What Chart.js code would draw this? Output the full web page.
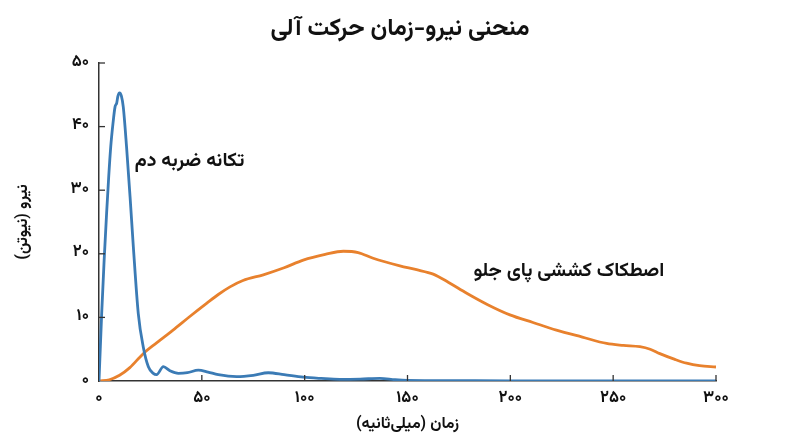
<!DOCTYPE html>
<html>
<head>
<meta charset="utf-8">
<script src="https://cdn.jsdelivr.net/npm/chart.js@4.4.1/dist/chart.umd.min.js"></script>
<style>
html,body{margin:0;padding:0;background:#fff;}
#wrap{width:800px;height:447px;position:relative;}
</style>
</head>
<body>
<div id="wrap"><canvas id="c" dir="rtl" width="800" height="447"></canvas></div>
<script>
// ---- data ----
const chartTitle = 'منحنی نیرو-زمان حرکت آلی';
const xTitle = 'زمان (میلی\u200cثانیه)';
const yTitle = 'نیرو (نیوتن)';
const tailLabel = 'تکانه ضربه دم';
const legLabel = 'اصطکاک کششی پای جلو';

const tailTimes  = [0,1.3,2.5,3.7,4.7,5.7,6.8,7.8,8.6,9.2,10,10.9,11.8,13.4,15.1,16.7,19.1,21.5,24,26.4,28,31.3,34.5,38.6,43,48.3,53,58,66.9,75,82.3,90,99.3,108,117,127,136.6,144,150,175,200,250,300];
const tailForce  = [0,10.6,19,26.4,32,36.8,40.5,43.1,43.7,44.8,45.3,44.8,43.1,36.8,29,21.1,10.6,5.4,2.25,1.2,1.0,2.25,1.6,1.2,1.3,1.7,1.4,1.0,0.7,0.9,1.3,1.0,0.6,0.4,0.26,0.3,0.42,0.2,0.1,0.05,0.03,0.02,0.02];

const legTimes   = [0,5,10,15,21.5,28,36,44,52.3,58,63.7,70,79.9,90,99.3,110,118.8,126,133.3,146.3,154.4,162.5,170,178.8,189,199.8,211,222.4,235,246.8,255,263,268,272.7,280,285.7,292,300];
const legForce   = [0,0.2,0.9,2.1,4.3,6.0,8.0,10.1,12.2,13.6,14.8,15.8,16.7,17.8,19.0,19.9,20.4,20.2,19.3,18.1,17.5,16.8,15.5,13.8,12.0,10.4,9.2,8.0,6.9,5.9,5.6,5.4,5.0,4.3,3.4,2.8,2.4,2.2];

const xTicks = [0,50,100,150,200,250,300];
const yTicks = [0,10,20,30,40,50];
const tailLabelPos = [44, 34.3];
const legLabelPos  = [228.5, 17];

const FONT = "'Vazirmatn','Noto Sans Arabic','DejaVu Sans',sans-serif";
const fa = n => String(n).replace(/\d/g, d => '۰۱۲۳۴۵۶۷۸۹'[d]);
const toXY = (ts, vs) => ts.map((t, i) => ({x: t, y: vs[i]}));

const decor = {
  id: 'decor',
  afterDatasetsDraw(chart) {
    const ctx = chart.ctx, xs = chart.scales.x, ys = chart.scales.y;
    ctx.save();
    ctx.strokeStyle = '#333';
    ctx.lineWidth = 1.3;
    const y0 = ys.getPixelForValue(0), x0 = xs.getPixelForValue(0);
    xTicks.forEach(v => { if (v === 0) return; const px = xs.getPixelForValue(v);
      ctx.beginPath(); ctx.moveTo(px, y0); ctx.lineTo(px, y0 - 6); ctx.stroke(); });
    yTicks.forEach(v => { if (v === 0) return; const py = ys.getPixelForValue(v);
      ctx.beginPath(); ctx.moveTo(x0, py); ctx.lineTo(x0 + 6, py); ctx.stroke(); });
    ctx.fillStyle = '#111';
    ctx.textAlign = 'center';
    ctx.textBaseline = 'middle';
    ctx.direction = 'rtl';
    ctx.font = "bold 19.5px " + FONT;
    ctx.fillText(tailLabel, xs.getPixelForValue(tailLabelPos[0]), ys.getPixelForValue(tailLabelPos[1]));
    ctx.fillText(legLabel, xs.getPixelForValue(legLabelPos[0]), ys.getPixelForValue(legLabelPos[1]));
    ctx.font = "bold 24px " + FONT;
    ctx.fillText(chartTitle, chart.width / 2, 31);
    ctx.restore();
  }
};

new Chart(document.getElementById('c'), {
  type: 'line',
  data: {
    datasets: [
      { label: tailLabel, data: toXY(tailTimes, tailForce), borderColor: '#3b7bb5', borderWidth: 2.8,
        pointRadius: 0, cubicInterpolationMode: 'monotone', fill: false },
      { label: legLabel, data: toXY(legTimes, legForce), borderColor: '#e8812d', borderWidth: 2.8,
        pointRadius: 0, cubicInterpolationMode: 'monotone', fill: false }
    ]
  },
  plugins: [decor],
  options: {
    responsive: false,
    animation: false,
    layout: { padding: { top: 63, right: 84, left: 0, bottom: 0 } },
    plugins: {
      legend: { display: false },
      tooltip: { enabled: false },
      title: { display: false }
    },
    scales: {
      x: {
        type: 'linear', min: 0, max: 300,
        afterBuildTicks: s => { s.ticks = xTicks.map(v => ({value: v})); },
        afterFit: s => { s.height = 66; },
        grid: { display: false, drawTicks: false },
        border: { display: true, color: '#333', width: 1.5 },
        ticks: { callback: v => fa(v), color: '#111', padding: 9, maxRotation: 0,
          font: { family: FONT, size: 16.5, weight: 'bold' } },
        title: { display: true, text: xTitle, color: '#111', padding: { top: 4, bottom: 12 },
          font: { family: FONT, size: 16, weight: 'bold' } }
      },
      y: {
        min: 0, max: 50,
        afterBuildTicks: s => { s.ticks = yTicks.map(v => ({value: v})); },
        afterFit: s => { s.width = 99; },
        grid: { display: false, drawTicks: false },
        border: { display: true, color: '#333', width: 1.5 },
        ticks: { callback: v => fa(v), color: '#111', padding: 10,
          font: { family: FONT, size: 16.5, weight: 'bold' } },
        title: { display: true, text: yTitle, color: '#111', padding: { top: 15, bottom: 6 },
          font: { family: FONT, size: 16, weight: 'bold' } }
      }
    }
  }
});
</script>
</body>
</html>
